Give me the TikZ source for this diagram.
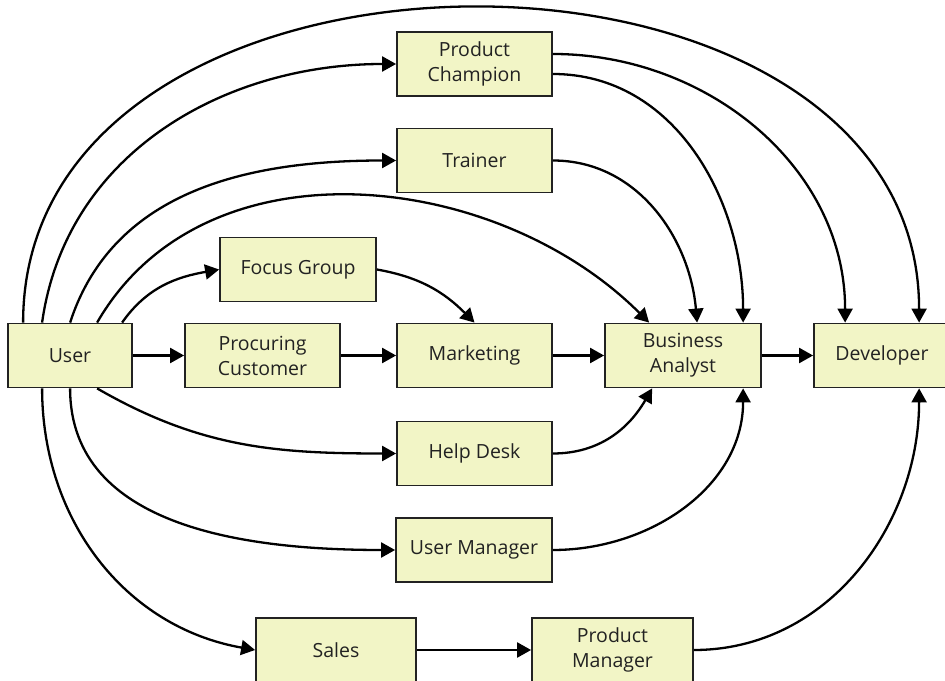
\documentclass[tikz,border=0pt]{standalone}
\usepackage{fontspec}
\setmainfont{Open Sans}
\usetikzlibrary{arrows.meta}
\definecolor{boxfill}{RGB}{242,245,198}
\definecolor{boxline}{RGB}{34,34,34}

\begin{document}
\begin{tikzpicture}[x=1pt, y=1pt, line width=2.3pt,
	>={Triangle[length=14pt,width=15pt]},
	main node/.style={rectangle, draw=boxline, fill=boxfill, line width=1.8pt,
		minimum width=155pt, minimum height=64pt, align=center, text=boxline,
		font=\fontsize{19.5}{25}\selectfont}]
	\useasboundingbox (0,0) rectangle (945,680);
	
	\node[main node, minimum width=124pt] (user) at (70,324.5) {User};
	\node[main node] (proc) at (262.5,324.5) {Procuring\\Customer};
	\node[main node] (mark) at (474.5,324.5) {Marketing};
	\node[main node, minimum width=156pt] (ba) at (683,324.5) {Business\\Analyst};
	\node[main node, minimum width=136pt] (dev) at (882,324.5) {Developer};
	\node[main node, minimum width=156pt] (fg) at (298,410.5) {Focus Group};
	\node[main node] (pc) at (474.5,616) {Product\\Champion};
	\node[main node] (tr) at (474.5,519.5) {Trainer};
	\node[main node] (hd) at (474.5,226.5) {Help Desk};
	\node[main node, minimum width=156pt] (um) at (474,130) {User Manager};
	\node[main node, minimum width=160pt] (sales) at (336,30) {Sales};
	\node[main node, minimum width=161pt] (pm) at (612.5,30) {Product\\Manager};
	
	\path[->]
	   (user) edge (proc)
	   (proc) edge (mark)
	   (mark) edge (ba)
	   (ba) edge (dev)
	   (sales) edge (pm)
	   % from the top of User
	   ([xshift=115pt]user.north west) edge[out=55, in=190] (fg.west)
	   ([xshift=90pt]user.north west) edge[out=60, in=135] ([xshift=45pt]ba.north west)
	   ([xshift=63pt]user.north west) edge[out=72, in=180] (tr.west)
	   ([xshift=35pt]user.north west) edge[out=82, in=180] (pc.west)
	   ([xshift=16pt]user.north west) edge[out=90, in=90, looseness=1.2] ([xshift=106pt]dev.north west)
	   % into Business Analyst and Developer from above
	   ([yshift=10pt]pc.east) edge[out=0, in=90] ([xshift=32pt]dev.north west)
	   ([yshift=-10pt]pc.east) edge[out=0, in=90] ([xshift=139pt]ba.north west)
	   (tr.east) edge[out=0, in=95] ([xshift=93pt]ba.north west)
	   (fg.east) edge[out=-10, in=135] (mark.north)
	   % from the bottom of User
	   ([xshift=90pt]user.south west) edge[out=-30, in=180] (hd.west)
	   ([xshift=63pt]user.south west) edge[out=-90, in=180] (um.west)
	   ([xshift=35pt]user.south west) edge[out=-90, in=170] (sales.west)
	   % into Business Analyst and Developer from below
	   (hd.east) edge[out=0, in=-120] ([xshift=48pt]ba.south west)
	   (um.east) edge[out=0, in=-90] ([xshift=139pt]ba.south west)
	   (pm.east) edge[out=0, in=-90] ([xshift=106pt]dev.south west);
	
\end{tikzpicture}
\end{document}
